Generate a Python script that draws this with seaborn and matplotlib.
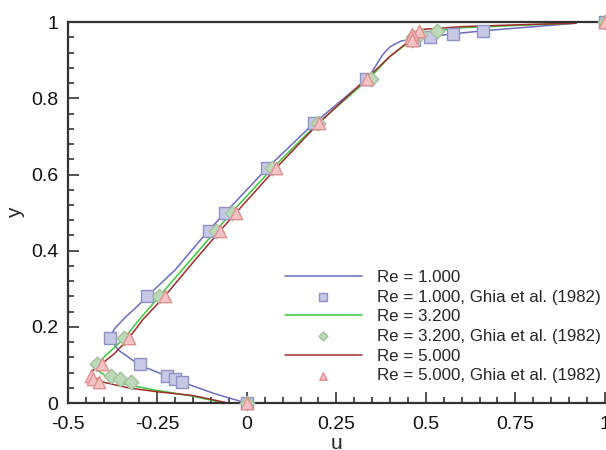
import numpy as np
import pandas as pd
import matplotlib
matplotlib.use("Agg")
import matplotlib.pyplot as plt
import seaborn as sns
from matplotlib.ticker import MultipleLocator

# Ghia et al. (1982) u-velocity along the vertical centreline
ghia_y = [1.0, 0.9766, 0.9688, 0.9609, 0.9531, 0.8516, 0.7344, 0.6172, 0.5,
          0.4531, 0.2813, 0.1719, 0.1016, 0.0703, 0.0625, 0.0547, 0.0]
ghia_u_1000 = [1.0, 0.65928, 0.57492, 0.51117, 0.46604, 0.33304, 0.18719, 0.05702,
               -0.06080, -0.10648, -0.27805, -0.38289, -0.29730, -0.22220,
               -0.20196, -0.18109, 0.0]
ghia_u_3200 = [1.0, 0.53236, 0.48296, 0.46547, 0.46101, 0.34682, 0.19791, 0.07156,
               -0.04272, -0.08636, -0.24427, -0.34323, -0.41933, -0.37827,
               -0.35344, -0.32407, 0.0]
ghia_u_5000 = [1.0, 0.48223, 0.46120, 0.45992, 0.46036, 0.33556, 0.20087, 0.08183,
               -0.03039, -0.07404, -0.22855, -0.33050, -0.40435, -0.43643,
               -0.42901, -0.41165, 0.0]

# present simulations
sim_y_1000 = [0.0, 0.025, 0.055, 0.07, 0.10, 0.14, 0.172, 0.195, 0.225, 0.255, 0.281,
              0.35, 0.45, 0.5, 0.617, 0.734, 0.852, 0.885, 0.915, 0.935, 0.95,
              0.957, 0.961, 0.969, 0.977, 0.997]
sim_u_1000 = [0.0, -0.09, -0.18, -0.22, -0.30, -0.36, -0.383, -0.37, -0.34, -0.305,
              -0.278, -0.20, -0.11, -0.06, 0.057, 0.187, 0.338, 0.36, 0.38, 0.40,
              0.43, 0.47, 0.511, 0.575, 0.66, 0.92]
sim_y_3200 = [0.0, 0.02, 0.035, 0.05, 0.065, 0.085, 0.10, 0.12, 0.17, 0.22, 0.281,
              0.453, 0.5, 0.617, 0.734, 0.852, 0.91, 0.953, 0.97, 0.985, 0.993, 0.997]
sim_u_3200 = [-0.06, -0.16, -0.26, -0.34, -0.385, -0.415, -0.42, -0.40, -0.343,
              -0.30, -0.244, -0.086, -0.043, 0.072, 0.198, 0.342, 0.40, 0.461,
              0.47, 0.6, 0.8, 0.92]
sim_y_5000 = [0.0, 0.02, 0.03, 0.04, 0.055, 0.07, 0.085, 0.10, 0.13, 0.17, 0.22,
              0.28, 0.37, 0.453, 0.5, 0.617, 0.734, 0.852, 0.91, 0.955, 0.98,
              0.988, 0.994, 0.997]
sim_u_5000 = [-0.05, -0.15, -0.25, -0.33, -0.40, -0.43, -0.432, -0.41, -0.37,
              -0.33, -0.29, -0.23, -0.15, -0.074, -0.03, 0.082, 0.20, 0.335,
              0.40, 0.46, 0.48, 0.6, 0.8, 0.92]

labels_line = ["Re = 1.000", "Re = 3.200", "Re = 5.000"]
labels_ghia = ["Re = 1.000, Ghia et al. (1982)", "Re = 3.200, Ghia et al. (1982)",
               "Re = 5.000, Ghia et al. (1982)"]

sns.set_style("white")
plt.rcParams['font.family'] = ['Liberation Sans', 'DejaVu Sans']
plt.rcParams['axes.unicode_minus'] = False

fig = plt.figure(figsize=(6.06, 4.5), dpi=100)
ax = fig.add_axes([0.112, 0.104, 0.886, 0.847])

line_colors = ["#6b6bbf", "#3cc83c", "#a02c2c"]
mark_face = ["#c6c8e6", "#bcd9b7", "#f3c3c3"]
mark_edge = ["#9092c4", "#a2c29e", "#e09090"]
mark_shape = ["s", "D", "^"]
mark_size = [80, 55, 80]

sims = [(sim_u_1000, sim_y_1000), (sim_u_3200, sim_y_3200), (sim_u_5000, sim_y_5000)]
ghias = [ghia_u_1000, ghia_u_3200, ghia_u_5000]

handles = []
labels = []
for i in range(3):
    df = pd.DataFrame({"u": sims[i][0], "y": sims[i][1]})
    sns.lineplot(data=df, x="u", y="y", sort=False, estimator=None,
                 color=line_colors[i], lw=1.1, ax=ax, label=labels_line[i])
    handles.append(ax.lines[-1])
    labels.append(labels_line[i])
    dg = pd.DataFrame({"u": ghias[i], "y": ghia_y})
    sns.scatterplot(data=dg, x="u", y="y", marker=mark_shape[i], s=mark_size[i],
                    color=mark_face[i], edgecolor=mark_edge[i], linewidth=1.0,
                    ax=ax, clip_on=False, zorder=3, label=labels_ghia[i])
    handles.append(ax.collections[-1])
    labels.append(labels_ghia[i])

ax.set_xlim(-0.5, 1.0)
ax.set_ylim(0, 1)
ax.xaxis.set_minor_locator(MultipleLocator(0.05))
ax.yaxis.set_minor_locator(MultipleLocator(0.04))
ax.set_xticks([-0.5, -0.25, 0, 0.25, 0.5, 0.75, 1])
ax.set_xticklabels(["-0.5", "-0.25", "0", "0.25", "0.5", "0.75", "1"])
ax.set_yticks([0, 0.2, 0.4, 0.6, 0.8, 1])
ax.set_yticklabels(["0", "0.2", "0.4", "0.6", "0.8", "1"])
ax.tick_params(which="both", direction="in", left=True, bottom=True,
               labelsize=14, width=1.2, color="#333333", labelcolor="#111111")
ax.tick_params(which="major", length=8)
ax.tick_params(axis="x", which="major", pad=9)
ax.tick_params(axis="y", which="major", pad=7)
ax.tick_params(which="minor", length=4)
for s in ["left", "bottom", "top"]:
    ax.spines[s].set_color("#333333")
    ax.spines[s].set_linewidth(1.6)
ax.spines["right"].set_visible(False)

ax.set_xlabel("u", fontsize=15, labelpad=1)
ax.set_ylabel("y", fontsize=15, labelpad=4)

ax.legend(handles, labels, loc="lower right", bbox_to_anchor=(1.005, 0.035),
          frameon=False, fontsize=12.2, handlelength=4.5, labelspacing=0.27,
          handletextpad=0.9, borderaxespad=0.0, markerscale=0.6)

fig.savefig("out.png", dpi=100)
